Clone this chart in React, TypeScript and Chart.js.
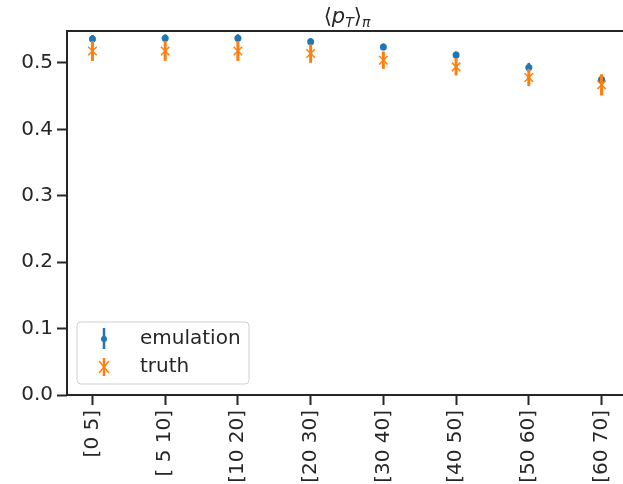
import React, { useEffect, useRef } from "react";
import { Chart, registerables } from "chart.js";

Chart.register(...registerables);

const categories = ["[0 5]", "[ 5 10]", "[10 20]", "[20 30]", "[30 40]", "[40 50]", "[50 60]", "[60 70]"];
const emulation = [0.536, 0.537, 0.537, 0.532, 0.524, 0.512, 0.493, 0.475];
const emulationErr = [0.006, 0.006, 0.006, 0.005, 0.005, 0.005, 0.007, 0.004];
const truth = [0.518, 0.518, 0.518, 0.514, 0.504, 0.494, 0.478, 0.467];
const truthErr = [0.015, 0.015, 0.015, 0.014, 0.013, 0.013, 0.013, 0.016];
const yTicks = [0, 0.1, 0.2, 0.3, 0.4, 0.5];

const BLUE = "#1f77b4";
const ORANGE = "#ff7f0e";
const INK = "#262626";
const FONT = "DejaVu Sans";
const FS = 20;

const errors = [emulationErr, truthErr];
const values = [emulation, truth];
const errColors = [BLUE, ORANGE];
const errWidths = [2.5, 3];

const errorBarPlugin = {
  id: "errorBars",
  afterDatasetDraw(chart: any, args: any) {
    const i = args.index;
    const ctx = chart.ctx;
    const xs = chart.scales.x;
    const ys = chart.scales.y;
    ctx.save();
    ctx.strokeStyle = errColors[i];
    ctx.lineWidth = errWidths[i];
    values[i].forEach((v, k) => {
      const px = xs.getPixelForValue(k);
      ctx.beginPath();
      ctx.moveTo(px, ys.getPixelForValue(v - errors[i][k]));
      ctx.lineTo(px, ys.getPixelForValue(v + errors[i][k]));
      ctx.stroke();
    });
    ctx.restore();
  },
};

const framePlugin = {
  id: "frameTitleLegend",
  afterDraw(chart: any) {
    const ctx = chart.ctx;
    const a = chart.chartArea;
    ctx.save();
    // frame
    ctx.strokeStyle = INK;
    ctx.lineWidth = 2;
    ctx.strokeRect(a.left, a.top, a.right - a.left, a.bottom - a.top);

    // title <p_T>_pi
    const big = `21px "${FONT}"`;
    const bigIt = `italic 21px "${FONT}"`;
    const smallIt = `italic 14px "${FONT}"`;
    const parts = [
      { t: "\u27E8", f: big, dy: 0 },
      { t: "p", f: bigIt, dy: 0 },
      { t: "T", f: smallIt, dy: 4 },
      { t: "\u27E9", f: big, dy: 0 },
      { t: "\u03C0", f: smallIt, dy: 4 },
    ];
    let total = 0;
    parts.forEach((p) => {
      ctx.font = p.f;
      total += ctx.measureText(p.t).width;
    });
    let x = (a.left + a.right) / 2 - total / 2;
    const base = 23;
    ctx.fillStyle = INK;
    ctx.textBaseline = "alphabetic";
    ctx.textAlign = "left";
    parts.forEach((p) => {
      ctx.font = p.f;
      ctx.fillText(p.t, x, base + p.dy);
      x += ctx.measureText(p.t).width;
    });

    // legend
    const lx = 77, ly = 322, lw = 172, lh = 62, r = 4;
    ctx.beginPath();
    ctx.moveTo(lx + r, ly);
    ctx.arcTo(lx + lw, ly, lx + lw, ly + lh, r);
    ctx.arcTo(lx + lw, ly + lh, lx, ly + lh, r);
    ctx.arcTo(lx, ly + lh, lx, ly, r);
    ctx.arcTo(lx, ly, lx + lw, ly, r);
    ctx.closePath();
    ctx.fillStyle = "rgba(255,255,255,0.8)";
    ctx.fill();
    ctx.strokeStyle = "#d0d0d0";
    ctx.lineWidth = 1;
    ctx.stroke();

    const mx = 104;
    const y1 = 339, y2 = 367;
    // emulation marker
    ctx.strokeStyle = BLUE;
    ctx.lineWidth = 2.5;
    ctx.beginPath();
    ctx.moveTo(mx, y1 - 11);
    ctx.lineTo(mx, y1 + 10);
    ctx.stroke();
    ctx.fillStyle = BLUE;
    ctx.beginPath();
    ctx.arc(mx, y1, 3, 0, Math.PI * 2);
    ctx.fill();
    // truth marker
    ctx.strokeStyle = ORANGE;
    ctx.lineWidth = 2.5;
    ctx.beginPath();
    ctx.moveTo(mx, y2 - 9);
    ctx.lineTo(mx, y2 + 9);
    ctx.stroke();
    ctx.lineWidth = 1.5;
    ctx.beginPath();
    ctx.moveTo(mx - 5, y2 - 6);
    ctx.lineTo(mx + 5, y2 + 6);
    ctx.moveTo(mx + 5, y2 - 6);
    ctx.lineTo(mx - 5, y2 + 6);
    ctx.stroke();

    ctx.fillStyle = INK;
    ctx.font = `${FS}px "${FONT}"`;
    ctx.textBaseline = "middle";
    ctx.fillText("emulation", 140, y1);
    ctx.fillText("truth", 140, y2);
    ctx.restore();
  },
};

export default function App() {
  const ref = useRef<HTMLCanvasElement | null>(null);
  useEffect(() => {
    if (!ref.current) return;
    const chart = new Chart(ref.current, {
      type: "scatter",
      data: {
        datasets: [
          {
            label: "emulation",
            data: emulation.map((v, i) => ({ x: i, y: v })),
            pointStyle: "circle",
            pointRadius: 3.5,
            backgroundColor: BLUE,
            borderColor: BLUE,
            borderWidth: 0,
            order: 1,
          },
          {
            label: "truth",
            data: truth.map((v, i) => ({ x: i, y: v })),
            pointStyle: "crossRot",
            pointRadius: 6,
            backgroundColor: ORANGE,
            borderColor: ORANGE,
            borderWidth: 1.5,
            order: 0,
          },
        ],
      },
      options: {
        animation: false,
        responsive: false,
        events: [],
        layout: { padding: { top: 31, right: 13, left: 0, bottom: 0 } },
        plugins: { legend: { display: false }, tooltip: { enabled: false }, title: { display: false } },
        scales: {
          x: {
            type: "linear",
            min: -0.35,
            max: 7.35,
            afterBuildTicks: (s: any) => {
              s.ticks = categories.map((_, i) => ({ value: i }));
            },
            afterFit: (s: any) => {
              s.height = 89;
            },
            border: { display: false },
            grid: { display: true, drawOnChartArea: false, drawTicks: true, tickLength: 10, tickWidth: 2, tickColor: INK },
            ticks: {
              autoSkip: false,
              minRotation: 90,
              maxRotation: 90,
              padding: 5,
              color: INK,
              font: { family: FONT, size: FS },
              callback: (v: any) => categories[Math.round(v)] ?? "",
            },
          },
          y: {
            type: "linear",
            min: 0,
            max: 0.548,
            afterBuildTicks: (s: any) => {
              s.ticks = yTicks.map((v) => ({ value: v }));
            },
            afterFit: (s: any) => {
              s.width = 67;
            },
            border: { display: false },
            grid: { display: true, drawOnChartArea: false, drawTicks: true, tickLength: 10, tickWidth: 2, tickColor: INK },
            ticks: {
              padding: 4,
              color: INK,
              font: { family: FONT, size: FS },
              callback: (v: any) => Number(v).toFixed(1),
            },
          },
        },
      },
      plugins: [errorBarPlugin, framePlugin],
    } as any);
    return () => chart.destroy();
  }, []);
  return (
    <div style={{ position: "fixed", left: 0, top: 0, width: 640, height: 484, background: "#fff" }}>
      <canvas ref={ref} width={640} height={484} style={{ width: 640, height: 484, display: "block" }} />
    </div>
  );
}
